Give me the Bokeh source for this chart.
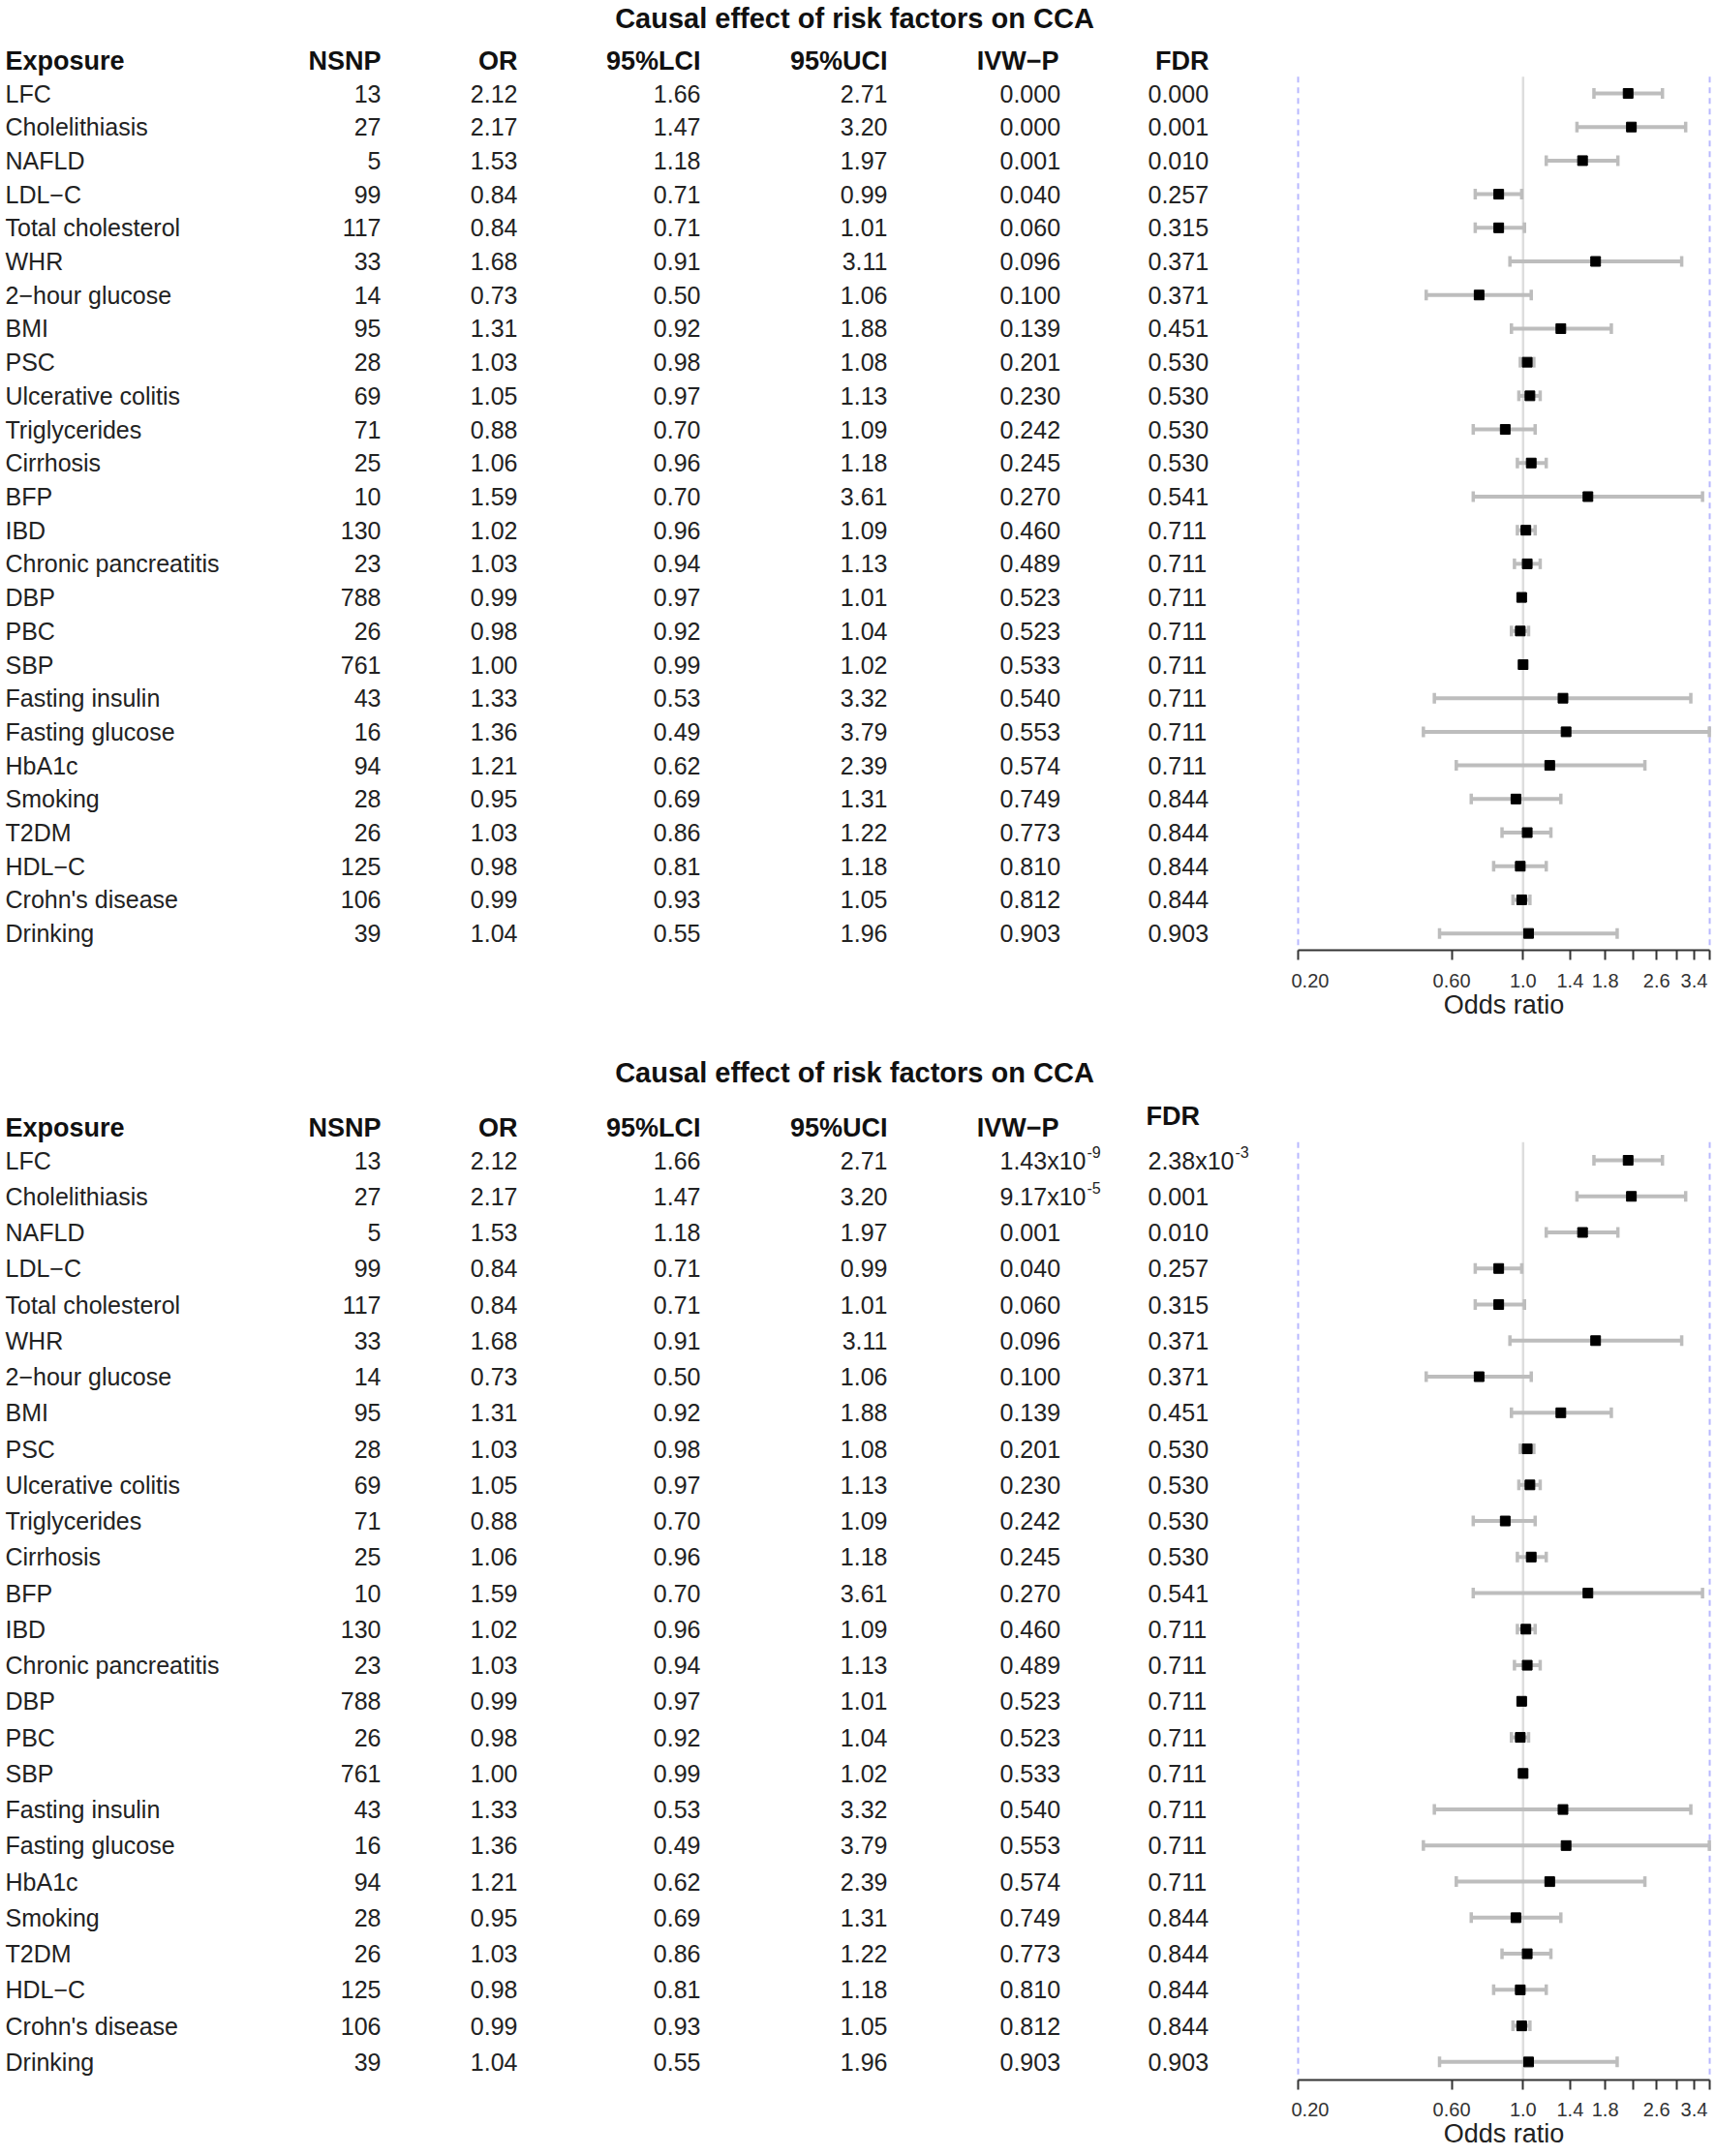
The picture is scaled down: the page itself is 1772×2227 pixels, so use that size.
import math
from bokeh.plotting import figure
from bokeh.models import (Range1d, LogAxis, FixedTicker, CustomJSTickFormatter,
                          ColumnDataSource)
from bokeh.layouts import column, row
from bokeh.core.properties import value
from bokeh.embed import file_html
from bokeh.resources import INLINE

# ---------------- data ----------------
title_text = "Causal effect of risk factors on CCA"
headers = ["Exposure", "NSNP", "OR", "95%LCI", "95%UCI", "IVW\u2212P", "FDR"]

exposure = ["LFC", "Cholelithiasis", "NAFLD", "LDL\u2212C", "Total cholesterol", "WHR",
            "2\u2212hour glucose", "BMI", "PSC", "Ulcerative colitis", "Triglycerides",
            "Cirrhosis", "BFP", "IBD", "Chronic pancreatitis", "DBP", "PBC", "SBP",
            "Fasting insulin", "Fasting glucose", "HbA1c", "Smoking", "T2DM", "HDL\u2212C",
            "Crohn's disease", "Drinking"]
nsnp = [13, 27, 5, 99, 117, 33, 14, 95, 28, 69, 71, 25, 10, 130, 23, 788, 26, 761,
        43, 16, 94, 28, 26, 125, 106, 39]
odds_ratio = [2.12, 2.17, 1.53, 0.84, 0.84, 1.68, 0.73, 1.31, 1.03, 1.05, 0.88, 1.06, 1.59,
              1.02, 1.03, 0.99, 0.98, 1.00, 1.33, 1.36, 1.21, 0.95, 1.03, 0.98, 0.99, 1.04]
lci = [1.66, 1.47, 1.18, 0.71, 0.71, 0.91, 0.50, 0.92, 0.98, 0.97, 0.70, 0.96, 0.70,
       0.96, 0.94, 0.97, 0.92, 0.99, 0.53, 0.49, 0.62, 0.69, 0.86, 0.81, 0.93, 0.55]
uci = [2.71, 3.20, 1.97, 0.99, 1.01, 3.11, 1.06, 1.88, 1.08, 1.13, 1.09, 1.18, 3.61,
       1.09, 1.13, 1.01, 1.04, 1.02, 3.32, 3.79, 2.39, 1.31, 1.22, 1.18, 1.05, 1.96]
ivw_p_top = ["0.000", "0.000", "0.001", "0.040", "0.060", "0.096", "0.100", "0.139", "0.201",
             "0.230", "0.242", "0.245", "0.270", "0.460", "0.489", "0.523", "0.523", "0.533",
             "0.540", "0.553", "0.574", "0.749", "0.773", "0.810", "0.812", "0.903"]
fdr_top = ["0.000", "0.001", "0.010", "0.257", "0.315", "0.371", "0.371", "0.451", "0.530",
           "0.530", "0.530", "0.530", "0.541", "0.711", "0.711", "0.711", "0.711", "0.711",
           "0.711", "0.711", "0.711", "0.844", "0.844", "0.844", "0.844", "0.903"]
ivw_p_bottom = ["1.43x10^-9", "9.17x10^-5", "0.001", "0.040", "0.060", "0.096", "0.100", "0.139",
                "0.201", "0.230", "0.242", "0.245", "0.270", "0.460", "0.489", "0.523", "0.523",
                "0.533", "0.540", "0.553", "0.574", "0.749", "0.773", "0.810", "0.812", "0.903"]
fdr_bottom = ["2.38x10^-3", "0.001", "0.010", "0.257", "0.315", "0.371", "0.371", "0.451", "0.530",
              "0.530", "0.530", "0.530", "0.541", "0.711", "0.711", "0.711", "0.711", "0.711",
              "0.711", "0.711", "0.711", "0.844", "0.844", "0.844", "0.844", "0.903"]

tick_values = [0.2, 0.6, 1.0, 1.4, 1.8, 2.2, 2.6, 3.0, 3.4, 3.8]
tick_labels = ["0.20", "0.60", "1.0", "1.4", "1.8", "", "2.6", "", "3.4", ""]
null_line = [1.0]
bound_lines = [0.2, 3.8]
axis_title = "Odds ratio"

# ---------------- layout constants (page pixels) ----------------
W = 1772
FONT = "Liberation Sans"
FS = 25
X_EXPOSURE = 5
X_NSNP = 393
X_OR = 534
X_LCI = 723
X_UCI = 916
X_P_LEFT = 1032
X_P_HEAD = 1093
X_FDR_LEFT = 1185
X_FDR_HEAD = 1248
X_TITLE = 882
FOREST_X02 = 1340.0
FOREST_X38 = 1765.0
PAD = 7.0
WT = int(FOREST_X02 - PAD)          # width of table figure
WF = W - WT                          # width of forest figure
FOREST_K = (FOREST_X38 - FOREST_X02) / math.log(bound_lines[1] / bound_lines[0])
log_lo = bound_lines[0] * math.exp(-PAD / FOREST_K)
log_hi = bound_lines[1] * math.exp((W - FOREST_X38) / FOREST_K)

ARIAL = {c: 0.556 for c in "0123456789"}
ARIAL.update({".": 0.278, "x": 0.5, "-": 0.333})


def em_width(s):
    return sum(ARIAL.get(c, 0.556) for c in s)


def add_text(p, xs, ys, texts, align="left", bold=False, size=FS, color="#222222"):
    src = ColumnDataSource(dict(x=xs, y=ys, t=texts))
    p.text(x="x", y="y", text="t", source=src, text_align=align, text_baseline="middle",
           text_font=value(FONT), text_font_size=value(f"{size}px"),
           text_font_style="bold" if bold else "normal", text_color=color)


def add_sci_column(p, strings, x_left, rows):
    base_t, sup_t, sup_y, sup_off = [], [], [], []
    for s, r in zip(strings, rows):
        if "^" in s:
            b, e = s.split("^")
            base_t.append(b)
            sup_t.append(e)
            sup_y.append(r)
            sup_off.append(em_width(b) * FS + 1)
        else:
            base_t.append(s)
    add_text(p, [x_left] * len(base_t), rows, base_t)
    if sup_t:
        src = ColumnDataSource(dict(x=[x_left] * len(sup_t), y=sup_y, t=sup_t, xo=sup_off))
        p.text(x="x", y="y", text="t", source=src, x_offset="xo", y_offset=-9,
               text_align="left", text_baseline="middle", text_font=value(FONT),
               text_font_size=value("16px"), text_color="#222222")


def make_panel(pvals, fdrvals, top, height, frame_bottom, lfc_y, title_y, header_y,
               fdr_header_y, fdr_header_left, tick_standoff):
    n = len(exposure)
    frame_h = frame_bottom - top
    border = height - frame_h
    row_px = (frame_h - (lfc_y - top)) / (n - 0.5)

    def val(page_y):
        return 1 + (page_y - lfc_y) / row_px

    y_bottom = n + 0.5
    yr = Range1d(y_bottom, val(top))
    common = dict(height=height, y_range=yr, output_backend="svg", toolbar_location=None,
                  x_axis_location=None, y_axis_location=None, min_border_left=0,
                  min_border_right=0, min_border_top=0, min_border_bottom=border,
                  outline_line_color=None)

    # ---- table figure ----
    t = figure(width=WT, x_range=Range1d(0, WT), **common)
    t.grid.visible = False
    rows = list(range(1, n + 1))
    add_text(t, [X_TITLE], [val(title_y)], [title_text], align="center", bold=True,
             size=29, color="#111111")
    hy = val(header_y)
    add_text(t, [X_EXPOSURE], [hy], [headers[0]], bold=True, size=27, color="#111111")
    add_text(t, [X_NSNP, X_OR, X_LCI, X_UCI, X_P_HEAD], [hy] * 5, headers[1:6],
             align="right", bold=True, size=27, color="#111111")
    if fdr_header_left:
        add_text(t, [X_FDR_LEFT - 2], [val(fdr_header_y)], [headers[6]], align="left",
                 bold=True, size=27, color="#111111")
    else:
        add_text(t, [X_FDR_HEAD], [val(fdr_header_y)], [headers[6]], align="right",
                 bold=True, size=27, color="#111111")
    add_text(t, [X_EXPOSURE] * n, rows, exposure)
    add_text(t, [X_NSNP] * n, rows, [str(v) for v in nsnp], align="right")
    add_text(t, [X_OR] * n, rows, [f"{v:.2f}" for v in odds_ratio], align="right")
    add_text(t, [X_LCI] * n, rows, [f"{v:.2f}" for v in lci], align="right")
    add_text(t, [X_UCI] * n, rows, [f"{v:.2f}" for v in uci], align="right")
    add_sci_column(t, pvals, X_P_LEFT, rows)
    add_sci_column(t, fdrvals, X_FDR_LEFT, rows)

    # ---- forest figure ----
    f = figure(width=WF, x_range=Range1d(log_lo, log_hi), x_axis_type="log", **common)
    f.grid.visible = False
    f.segment(x0=bound_lines, x1=bound_lines, y0=[0.5] * 2, y1=[y_bottom] * 2,
              line_color="#b8b8ff", line_width=2, line_dash="6 5")
    f.segment(x0=null_line, x1=null_line, y0=[0.5], y1=[y_bottom],
              line_color="#dddddd", line_width=2.5)
    src = ColumnDataSource(dict(y=rows, orv=odds_ratio, lo=lci, hi=uci))
    f.segment(x0="lo", x1="hi", y0="y", y1="y", source=src,
              line_color="#bdbdbd", line_width=4)
    f.scatter(x="lo", y="y", source=src, marker="dash", angle=math.pi / 2, size=11,
              line_color="#bdbdbd", line_width=3.5)
    f.scatter(x="hi", y="y", source=src, marker="dash", angle=math.pi / 2, size=11,
              line_color="#bdbdbd", line_width=3.5)
    f.scatter(x="orv", y="y", source=src, marker="square", size=10,
              fill_color="black", line_color="black")

    ax = LogAxis(ticker=FixedTicker(ticks=tick_values, minor_ticks=[]),
                 formatter=CustomJSTickFormatter(
                     args=dict(vals=tick_values, labels=tick_labels),
                     code="const i = vals.findIndex(v => Math.abs(v - tick) < 1e-6);"
                          " return i >= 0 ? labels[i] : '';"),
                 bounds=(bound_lines[0], bound_lines[1]), axis_label=axis_title)
    ax.axis_line_width = 2
    ax.axis_line_color = "#333333"
    ax.major_tick_line_width = 2
    ax.major_tick_line_color = "#333333"
    ax.major_tick_out = 10
    ax.major_tick_in = 0
    ax.minor_tick_out = 0
    ax.minor_tick_in = 0
    ax.major_label_text_font = FONT
    ax.major_label_text_font_size = "20px"
    ax.major_label_text_color = "#333333"
    ax.major_label_standoff = tick_standoff
    ax.axis_label_text_font = FONT
    ax.axis_label_text_font_size = "27px"
    ax.axis_label_text_font_style = "normal"
    ax.axis_label_text_color = "#222222"
    ax.axis_label_standoff = 0
    f.add_layout(ax, "below")
    return row(t, f)


p1 = make_panel(ivw_p_top, fdr_top, top=0, height=1065, frame_bottom=981, lfc_y=96,
                title_y=18, header_y=62, fdr_header_y=62, fdr_header_left=False,
                tick_standoff=14)
p2 = make_panel(ivw_p_bottom, fdr_bottom, top=1065, height=1162, frame_bottom=2148,
                lfc_y=1198, title_y=1107, header_y=1164, fdr_header_y=1152,
                fdr_header_left=True, tick_standoff=13)

layout = column(p1, p2)
open("out.html", "w").write(file_html(layout, INLINE))
